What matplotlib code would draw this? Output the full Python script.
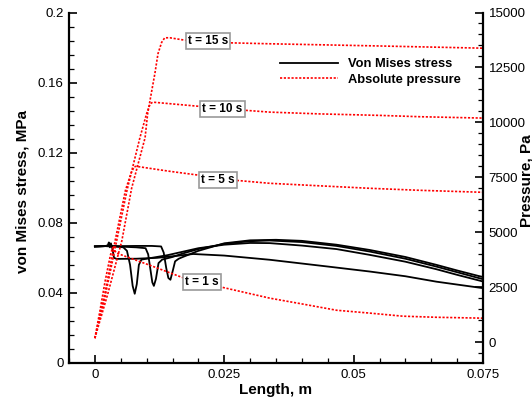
import numpy as np
import matplotlib
matplotlib.use("Agg")
import matplotlib.pyplot as plt
from matplotlib.ticker import MultipleLocator, FuncFormatter
from matplotlib.lines import Line2D

plt.rcParams['font.family'] = ['Liberation Sans', 'DejaVu Sans']

# von Mises stress (MPa) vs length (m)
x_s1 = [0, 0.0020, 0.0025, 0.0027, 0.0029, 0.0031, 0.0034, 0.0037, 0.0042, 0.008, 0.012,
        0.016, 0.019, 0.025, 0.0338, 0.0454, 0.0531, 0.060, 0.066, 0.075]
s1 = [0.0665, 0.0667, 0.0672, 0.0688, 0.0660, 0.0683, 0.0650, 0.0600, 0.0594, 0.0595, 0.0600,
      0.0612, 0.0622, 0.0613, 0.0589, 0.0549, 0.0522, 0.0495, 0.0464, 0.0427]

x_s5 = [0, 0.002, 0.004, 0.0055, 0.0062, 0.0068, 0.0073, 0.0077, 0.0081, 0.0085, 0.0090, 0.011,
        0.014, 0.017, 0.020, 0.025, 0.030, 0.0338, 0.040, 0.0467, 0.0531, 0.060, 0.066, 0.070, 0.075]
s5 = [0.0665, 0.0667, 0.0665, 0.0660, 0.0640, 0.0560, 0.0440, 0.0395, 0.0450, 0.0560, 0.0590, 0.0600,
      0.0615, 0.0635, 0.0655, 0.0675, 0.0685, 0.0684, 0.0670, 0.0650, 0.0617, 0.0578, 0.0535, 0.0503, 0.0465]

x_s10 = [0, 0.002, 0.005, 0.008, 0.0098, 0.0103, 0.0108, 0.0111, 0.0114, 0.0118, 0.0123, 0.0130,
         0.015, 0.017, 0.020, 0.025, 0.030, 0.0338, 0.040, 0.0467, 0.0531, 0.060, 0.066, 0.070, 0.075]
s10 = [0.0665, 0.0667, 0.0664, 0.0660, 0.0655, 0.0620, 0.0520, 0.0460, 0.0440, 0.0480, 0.0570, 0.0590,
       0.0605, 0.0625, 0.0650, 0.0680, 0.0695, 0.0699, 0.0690, 0.0668, 0.0636, 0.0595, 0.0550, 0.0518, 0.0478]

x_s15 = [0, 0.002, 0.005, 0.008, 0.011, 0.0128, 0.0133, 0.0138, 0.0142, 0.0146, 0.0150, 0.0155,
         0.0162, 0.017, 0.020, 0.025, 0.030, 0.035, 0.040, 0.0467, 0.0531, 0.060, 0.066, 0.070, 0.075]
s15 = [0.0665, 0.0667, 0.0667, 0.0668, 0.0668, 0.0665, 0.0630, 0.0540, 0.0485, 0.0475, 0.0520, 0.0580,
       0.0595, 0.0605, 0.0640, 0.0683, 0.0700, 0.0703, 0.0697, 0.0675, 0.0645, 0.0605, 0.0560, 0.0528, 0.0490]

# absolute pressure (Pa) vs length (m)
x_p1 = [0, 0.0010, 0.0020, 0.0030, 0.0034, 0.0042, 0.0106, 0.0168, 0.0245, 0.0338,
        0.0402, 0.0467, 0.0531, 0.0595, 0.066, 0.075]
p1 = [180, 1450, 2800, 3950, 4300, 4050, 3500, 2950, 2500, 2000,
      1730, 1450, 1320, 1180, 1130, 1090]

x_p5 = [0, 0.002, 0.0039, 0.0059, 0.0070, 0.0076, 0.0080, 0.0106, 0.0145, 0.0203, 0.0272,
        0.0338, 0.0434, 0.0531, 0.0627, 0.075]
p5 = [180, 2300, 4600, 6900, 7700, 7980, 8000, 7908, 7772, 7590, 7363,
      7227, 7113, 7000, 6909, 6818]

x_p10 = [0, 0.002, 0.0042, 0.0062, 0.0087, 0.0100, 0.0107, 0.0112, 0.0203, 0.0293, 0.0338,
         0.0434, 0.055, 0.0627, 0.075]
p10 = [180, 2100, 4600, 6900, 9300, 10400, 10850, 10920, 10727, 10545, 10467,
       10386, 10318, 10258, 10195]

x_p15 = [0, 0.0025, 0.0052, 0.0071, 0.0097, 0.0102, 0.0110, 0.0116, 0.0122, 0.0129, 0.0135,
         0.0145, 0.0174, 0.0261, 0.0338, 0.055, 0.075]
p15 = [180, 2200, 4600, 7000, 9300, 10400, 11450, 12230, 13130, 13640, 13850,
       13850, 13740, 13620, 13577, 13477, 13377]

time_labels = ["t = 1 s", "t = 5 s", "t = 10 s", "t = 15 s"]
label_pos = [(0.3213, 0.2311), (0.3599, 0.5230), (0.3708, 0.7238), (0.3357, 0.9178)]

red_dot = (0, (1.3, 1.0))

fig = plt.figure(figsize=(5.32, 4.01), dpi=100)
ax = fig.add_axes([0.1297, 0.0948, 0.7782, 0.874])
ax2 = ax.twinx()

for xs, ys in [(x_s1, s1), (x_s5, s5), (x_s10, s10), (x_s15, s15)]:
    ax.plot(xs, ys, color='black', lw=1.3)
for xs, ys in [(x_p1, p1), (x_p5, p5), (x_p10, p10), (x_p15, p15)]:
    ax2.plot(xs, ys, color='red', lw=1.2, ls=red_dot)

ax.set_xlim(-0.005, 0.075)
ax.set_ylim(0, 0.2)
ax2.set_ylim(-950, 15000)

ax.xaxis.set_major_locator(MultipleLocator(0.025))
ax.xaxis.set_minor_locator(MultipleLocator(0.005))
ax.yaxis.set_major_locator(MultipleLocator(0.04))
ax.yaxis.set_minor_locator(MultipleLocator(0.008))
ax2.yaxis.set_major_locator(MultipleLocator(2500))
ax2.yaxis.set_minor_locator(MultipleLocator(500))
fmt = FuncFormatter(lambda v, p: "%g" % round(v, 6))
ax.xaxis.set_major_formatter(fmt)
ax.yaxis.set_major_formatter(fmt)
ax2.yaxis.set_major_formatter(fmt)

for a in (ax, ax2):
    a.spines['top'].set_visible(False)
    a.tick_params(which='major', direction='in', length=5.8, width=1.2, labelsize=9.5, pad=4)
    a.tick_params(which='minor', direction='in', length=3.4, width=0.9)
ax.spines['right'].set_visible(False)
ax2.spines['left'].set_visible(False)
ax2.spines['bottom'].set_visible(False)
ax.spines['left'].set_linewidth(1.6)
ax.spines['bottom'].set_linewidth(1.6)
ax2.spines['right'].set_linewidth(1.6)
ax.tick_params(top=False, right=False)

ax.set_xlabel("Length, m", fontsize=11, fontweight='bold', labelpad=2)
ax.set_ylabel("von Mises stress, MPa", fontsize=11, fontweight='bold')
ax.yaxis.set_label_coords(-0.095, 0.49)
# the reference has this label running off the right edge
ax2.set_ylabel("Pressure, Pa", fontsize=11, fontweight='bold')
ax2.yaxis.set_label_coords(1.088, 0.52)

for txt, (fx, fy) in zip(time_labels, label_pos):
    ax2.text(fx, fy, txt, transform=ax2.transAxes, ha='center', va='center',
             fontsize=8.5, fontweight='bold', zorder=5,
             bbox=dict(boxstyle='square,pad=0.18', fc='white', ec='#999999', lw=1.2))

handles = [Line2D([], [], color='black', lw=1.3),
           Line2D([], [], color='red', lw=1.2, ls=red_dot)]
ax2.legend(handles, ["Von Mises stress", "Absolute pressure"], loc='upper left',
           bbox_to_anchor=(0.5097, 0.869), frameon=False, borderpad=0, borderaxespad=0,
           handlelength=4.5, handletextpad=0.8, labelspacing=0.25,
           prop={'size': 9.3, 'weight': 'bold'})

fig.savefig("out.png", dpi=100)
